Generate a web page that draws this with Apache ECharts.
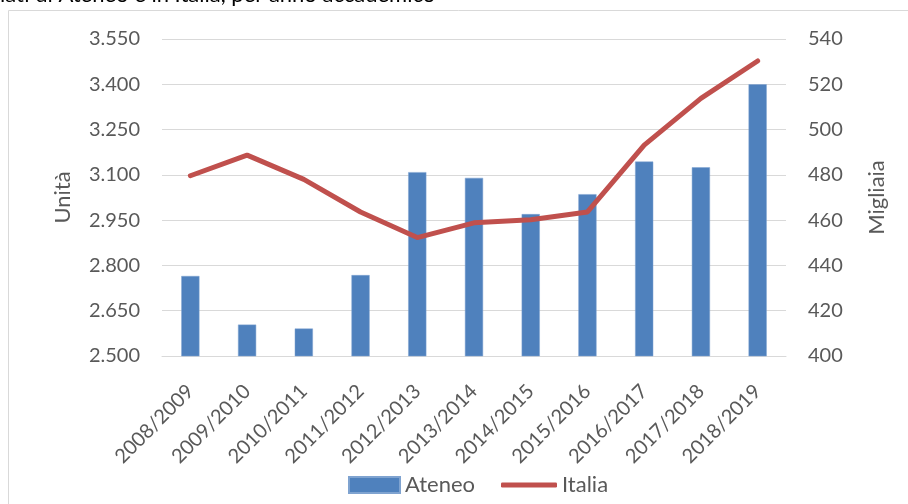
<!DOCTYPE html>
<html>
<head>
<meta charset="utf-8">
<script src="https://cdn.jsdelivr.net/npm/echarts@6/dist/echarts.min.js"></script>
<style>html,body{margin:0;padding:0;background:#fff;}#c{width:908px;height:504px;}</style>
</head>
<body>
<div id="c"></div>
<script>
const categories = ['2008/2009','2009/2010','2010/2011','2011/2012','2012/2013','2013/2014','2014/2015','2015/2016','2016/2017','2017/2018','2018/2019'];
const ateneo = [2765, 2604, 2591, 2768, 3109, 3090, 2970, 3036, 3144, 3125, 3400];
const italia = [479.6, 488.7, 478.0, 463.6, 452.3, 458.8, 460.2, 463.6, 493.1, 513.8, 530.3];
const leftTicks = {min: 2500, max: 3550, interval: 150};
const rightTicks = {min: 400, max: 540, interval: 20};
const titleText = 'iati di Ateneo e in Italia, per anno accademico';

const FONT = 'Lato';
const chart = echarts.init(document.getElementById('c'), null, {renderer: 'canvas'});
chart.setOption({
  animation: false,
  textStyle: {fontFamily: FONT},
  grid: {left: 162, right: 122, top: 39, bottom: 148, containLabel: false},
  graphic: [
    {type: 'rect', shape: {x: 8.5, y: 10.5, width: 1000, height: 1000}, style: {fill: 'none', stroke: '#D9D9D9', lineWidth: 1}, silent: true},
    {type: 'text', x: 0, y: 6, style: {text: titleText, font: '22px Lato', fill: '#000', verticalAlign: 'bottom'}, silent: true}
  ],
  legend: [
    {left: 343, top: 469, itemWidth: 51, itemHeight: 16, itemGap: 8,
     textStyle: {fontFamily: FONT, fontSize: 22, color: '#595959'},
     data: [{name: 'Ateneo', icon: 'rect'}]},
    {left: 496, top: 469, itemWidth: 56, itemHeight: 5, itemGap: 8,
     textStyle: {fontFamily: FONT, fontSize: 22, color: '#595959'},
     data: [{name: 'Italia', icon: 'roundRect'}]}
  ],
  xAxis: {
    type: 'category', data: categories,
    axisLine: {lineStyle: {color: '#D9D9D9', width: 1}},
    axisTick: {show: false},
    axisLabel: {rotate: 45, fontFamily: FONT, fontSize: 20, color: '#595959', margin: 32, interval: 0}
  },
  yAxis: [
    {type: 'value', min: leftTicks.min, max: leftTicks.max, interval: leftTicks.interval,
     name: 'Unità', nameLocation: 'middle', nameGap: 88, nameRotate: 90,
     nameTextStyle: {fontFamily: FONT, fontSize: 22, color: '#595959'},
     axisLine: {show: false}, axisTick: {show: false},
     axisLabel: {fontFamily: FONT, fontSize: 20, color: '#595959', margin: 22, formatter: v => String(v).replace(/(\d)(\d{3})$/, '$1.$2')},
     splitLine: {lineStyle: {color: '#D9D9D9', width: 1}}},
    {type: 'value', min: rightTicks.min, max: rightTicks.max, interval: rightTicks.interval,
     name: 'Migliaia', nameLocation: 'middle', nameGap: 80, nameRotate: 90,
     nameTextStyle: {fontFamily: FONT, fontSize: 22, color: '#595959'},
     axisLine: {show: false}, axisTick: {show: false},
     axisLabel: {fontFamily: FONT, fontSize: 20, color: '#595959', margin: 22},
     splitLine: {show: false}}
  ],
  series: [
    {name: 'Ateneo', type: 'bar', yAxisIndex: 0, data: ateneo, barWidth: '32%',
     itemStyle: {color: '#4F81BD', borderColor: '#7FA3D0', borderWidth: 0.5}},
    {name: 'Italia', type: 'line', yAxisIndex: 1, data: italia, symbol: 'none',
     lineStyle: {color: '#C0504D', width: 5, cap: 'round', join: 'round'}, itemStyle: {color: '#C0504D'}}
  ]
});
</script>
</body>
</html>
